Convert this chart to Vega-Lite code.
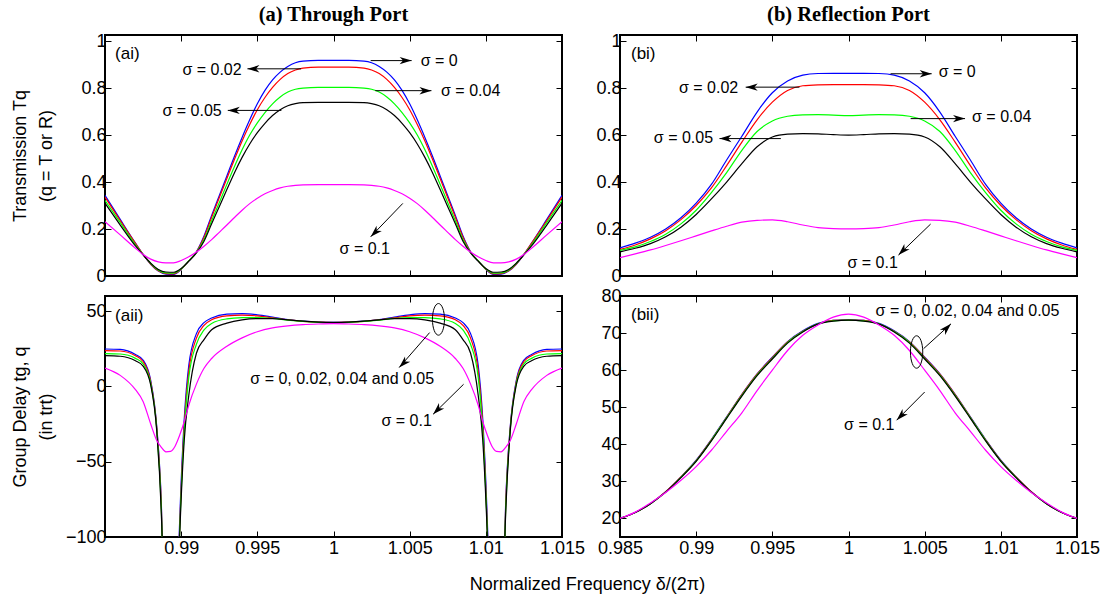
{
"$schema": "https://vega.github.io/schema/vega-lite/v6.json",
"autosize": "pad",
"padding": {"left": 9, "top": 4, "right": 2, "bottom": 5},
"background": "white",
"datasets": {
"ai": [
{"x":0.985,"a":0.343,"b":0.336,"c":0.322,"d":0.31,"e":0.231},
{"x":0.986,"a":0.241,"b":0.236,"c":0.227,"d":0.217,"e":0.175},
{"x":0.987,"a":0.14,"b":0.139,"c":0.133,"d":0.128,"e":0.118},
{"x":0.9875,"a":0.092,"b":0.092,"c":0.092,"d":0.09,"e":0.092},
{"x":0.988,"a":0.05,"b":0.051,"c":0.053,"d":0.055,"e":0.072},
{"x":0.9885,"a":0.021,"b":0.022,"c":0.025,"d":0.028,"e":0.06},
{"x":0.989,"a":0.008,"b":0.01,"c":0.013,"d":0.017,"e":0.056},
{"x":0.9895,"a":0.007,"b":0.009,"c":0.012,"d":0.016,"e":0.056},
{"x":0.99,"a":0.028,"b":0.029,"c":0.03,"d":0.032,"e":0.066},
{"x":0.9905,"a":0.064,"b":0.064,"c":0.064,"d":0.063,"e":0.082},
{"x":0.991,"a":0.103,"b":0.102,"c":0.1,"d":0.098,"e":0.102},
{"x":0.9915,"a":0.17,"b":0.165,"c":0.155,"d":0.148,"e":0.127},
{"x":0.992,"a":0.258,"b":0.25,"c":0.235,"d":0.222,"e":0.155},
{"x":0.9925,"a":0.342,"b":0.333,"c":0.312,"d":0.295,"e":0.186},
{"x":0.993,"a":0.426,"b":0.415,"c":0.39,"d":0.368,"e":0.217},
{"x":0.9935,"a":0.51,"b":0.497,"c":0.466,"d":0.44,"e":0.249},
{"x":0.994,"a":0.59,"b":0.575,"c":0.537,"d":0.505,"e":0.28},
{"x":0.9945,"a":0.665,"b":0.645,"c":0.6,"d":0.562,"e":0.308},
{"x":0.995,"a":0.733,"b":0.708,"c":0.652,"d":0.61,"e":0.331},
{"x":0.9955,"a":0.79,"b":0.76,"c":0.696,"d":0.65,"e":0.35},
{"x":0.996,"a":0.835,"b":0.803,"c":0.733,"d":0.683,"e":0.364},
{"x":0.9965,"a":0.868,"b":0.837,"c":0.762,"d":0.708,"e":0.375},
{"x":0.997,"a":0.892,"b":0.862,"c":0.783,"d":0.725,"e":0.382},
{"x":0.9975,"a":0.908,"b":0.877,"c":0.795,"d":0.734,"e":0.386},
{"x":0.998,"a":0.915,"b":0.885,"c":0.8,"d":0.738,"e":0.388},
{"x":0.999,"a":0.918,"b":0.889,"c":0.803,"d":0.739,"e":0.389},
{"x":1.0,"a":0.918,"b":0.889,"c":0.803,"d":0.739,"e":0.389},
{"x":1.001,"a":0.918,"b":0.889,"c":0.803,"d":0.739,"e":0.389},
{"x":1.002,"a":0.915,"b":0.885,"c":0.8,"d":0.738,"e":0.388},
{"x":1.0025,"a":0.908,"b":0.877,"c":0.795,"d":0.734,"e":0.386},
{"x":1.003,"a":0.892,"b":0.862,"c":0.783,"d":0.725,"e":0.382},
{"x":1.0035,"a":0.868,"b":0.837,"c":0.762,"d":0.708,"e":0.375},
{"x":1.004,"a":0.835,"b":0.803,"c":0.733,"d":0.683,"e":0.364},
{"x":1.0045,"a":0.79,"b":0.76,"c":0.696,"d":0.65,"e":0.35},
{"x":1.005,"a":0.733,"b":0.708,"c":0.652,"d":0.61,"e":0.331},
{"x":1.0055,"a":0.665,"b":0.645,"c":0.6,"d":0.562,"e":0.308},
{"x":1.006,"a":0.59,"b":0.575,"c":0.537,"d":0.505,"e":0.28},
{"x":1.0065,"a":0.51,"b":0.497,"c":0.466,"d":0.44,"e":0.249},
{"x":1.007,"a":0.426,"b":0.415,"c":0.39,"d":0.368,"e":0.217},
{"x":1.0075,"a":0.342,"b":0.333,"c":0.312,"d":0.295,"e":0.186},
{"x":1.008,"a":0.258,"b":0.25,"c":0.235,"d":0.222,"e":0.155},
{"x":1.0085,"a":0.17,"b":0.165,"c":0.155,"d":0.148,"e":0.127},
{"x":1.009,"a":0.103,"b":0.102,"c":0.1,"d":0.098,"e":0.102},
{"x":1.0095,"a":0.064,"b":0.064,"c":0.064,"d":0.063,"e":0.082},
{"x":1.01,"a":0.028,"b":0.029,"c":0.03,"d":0.032,"e":0.066},
{"x":1.0105,"a":0.007,"b":0.009,"c":0.012,"d":0.016,"e":0.056},
{"x":1.011,"a":0.008,"b":0.01,"c":0.013,"d":0.017,"e":0.056},
{"x":1.0115,"a":0.021,"b":0.022,"c":0.025,"d":0.028,"e":0.06},
{"x":1.012,"a":0.05,"b":0.051,"c":0.053,"d":0.055,"e":0.072},
{"x":1.0125,"a":0.092,"b":0.092,"c":0.092,"d":0.09,"e":0.092},
{"x":1.013,"a":0.14,"b":0.139,"c":0.133,"d":0.128,"e":0.118},
{"x":1.014,"a":0.241,"b":0.236,"c":0.227,"d":0.217,"e":0.175},
{"x":1.015,"a":0.343,"b":0.336,"c":0.322,"d":0.31,"e":0.231}
],
"aii": [
{"x":0.985,"a":24.8,"b":23.7,"c":21.7,"d":20.4,"e":12.2},
{"x":0.986,"a":24.6,"b":23.5,"c":21.5,"d":20,"e":7.3},
{"x":0.987,"a":21.2,"b":20.3,"c":18.6,"d":17,"e":-2.2},
{"x":0.9875,"a":17.5,"b":16.5,"c":15,"d":13.5,"e":-10},
{"x":0.988,"a":4,"b":3,"c":2,"d":1,"e":-25},
{"x":0.9884,"a":-27,"b":-28,"c":-29,"d":-30,"e":-36},
{"x":0.9887,"a":-78,"b":-80,"c":-82,"d":-85,"e":-40.5},
{"x":0.989,"a":-200,"b":-200,"c":-200,"d":-200,"e":-43.5},
{"x":0.9893,"a":-400,"b":-400,"c":-400,"d":-400,"e":-43.2},
{"x":0.9896,"a":-200,"b":-200,"c":-200,"d":-200,"e":-39.7},
{"x":0.9899,"a":-90,"b":-95,"c":-97,"d":-100,"e":-32.5},
{"x":0.9902,"a":-22,"b":-26,"c":-30,"d":-36,"e":-23.5},
{"x":0.9905,"a":14,"b":10,"c":6,"d":-6,"e":-12.5},
{"x":0.991,"a":35,"b":32,"c":28,"d":22,"e":1.5},
{"x":0.9915,"a":42.3,"b":40.5,"c":37.5,"d":31,"e":12},
{"x":0.992,"a":45.4,"b":44.2,"c":41.8,"d":37.6,"e":18.5},
{"x":0.993,"a":48,"b":46.8,"c":44.8,"d":42,"e":26.6},
{"x":0.994,"a":48.3,"b":47.3,"c":45.6,"d":44.2,"e":32.2},
{"x":0.995,"a":47.5,"b":46.8,"c":45.7,"d":45,"e":36.3},
{"x":0.996,"a":46,"b":45.5,"c":45.1,"d":45,"e":38.8},
{"x":0.997,"a":44.4,"b":44.2,"c":44,"d":44.2,"e":40.2},
{"x":0.998,"a":43.3,"b":43.2,"c":43.1,"d":43.3,"e":41},
{"x":0.999,"a":42.7,"b":42.6,"c":42.5,"d":42.7,"e":41.4},
{"x":1.0,"a":42.5,"b":42.4,"c":42.3,"d":42.5,"e":41.6},
{"x":1.001,"a":42.7,"b":42.6,"c":42.5,"d":42.7,"e":41.4},
{"x":1.002,"a":43.3,"b":43.2,"c":43.1,"d":43.3,"e":41},
{"x":1.003,"a":44.4,"b":44.2,"c":44,"d":44.2,"e":40.2},
{"x":1.004,"a":46,"b":45.5,"c":45.1,"d":45,"e":38.8},
{"x":1.005,"a":47.5,"b":46.8,"c":45.7,"d":45,"e":36.3},
{"x":1.006,"a":48.3,"b":47.3,"c":45.6,"d":44.2,"e":32.2},
{"x":1.007,"a":48,"b":46.8,"c":44.8,"d":42,"e":26.6},
{"x":1.008,"a":45.4,"b":44.2,"c":41.8,"d":37.6,"e":18.5},
{"x":1.0085,"a":42.3,"b":40.5,"c":37.5,"d":31,"e":12},
{"x":1.009,"a":35,"b":32,"c":28,"d":22,"e":1.5},
{"x":1.0095,"a":14,"b":10,"c":6,"d":-6,"e":-12.5},
{"x":1.0098,"a":-22,"b":-26,"c":-30,"d":-36,"e":-23.5},
{"x":1.0101,"a":-90,"b":-95,"c":-97,"d":-100,"e":-32.5},
{"x":1.0104,"a":-200,"b":-200,"c":-200,"d":-200,"e":-39.7},
{"x":1.0107,"a":-400,"b":-400,"c":-400,"d":-400,"e":-43.2},
{"x":1.011,"a":-200,"b":-200,"c":-200,"d":-200,"e":-43.5},
{"x":1.0113,"a":-78,"b":-80,"c":-82,"d":-85,"e":-40.5},
{"x":1.0116,"a":-27,"b":-28,"c":-29,"d":-30,"e":-36},
{"x":1.012,"a":4,"b":3,"c":2,"d":1,"e":-25},
{"x":1.0125,"a":17.5,"b":16.5,"c":15,"d":13.5,"e":-10},
{"x":1.013,"a":21.2,"b":20.3,"c":18.6,"d":17,"e":-2.2},
{"x":1.014,"a":24.6,"b":23.5,"c":21.5,"d":20,"e":7.3},
{"x":1.015,"a":24.8,"b":23.7,"c":21.7,"d":20.4,"e":12.2}
],
"bi": [
{"x":0.985,"a":0.12,"b":0.113,"c":0.109,"d":0.103,"e":0.078},
{"x":0.986,"a":0.14,"b":0.132,"c":0.124,"d":0.118,"e":0.094},
{"x":0.987,"a":0.165,"b":0.158,"c":0.147,"d":0.138,"e":0.111},
{"x":0.988,"a":0.2,"b":0.193,"c":0.178,"d":0.167,"e":0.13},
{"x":0.989,"a":0.248,"b":0.24,"c":0.222,"d":0.208,"e":0.15},
{"x":0.99,"a":0.31,"b":0.3,"c":0.28,"d":0.262,"e":0.171},
{"x":0.991,"a":0.39,"b":0.375,"c":0.355,"d":0.328,"e":0.192},
{"x":0.992,"a":0.494,"b":0.47,"c":0.44,"d":0.4,"e":0.212},
{"x":0.993,"a":0.595,"b":0.57,"c":0.535,"d":0.478,"e":0.229},
{"x":0.994,"a":0.698,"b":0.665,"c":0.615,"d":0.55,"e":0.237},
{"x":0.995,"a":0.78,"b":0.74,"c":0.66,"d":0.592,"e":0.239},
{"x":0.996,"a":0.83,"b":0.79,"c":0.68,"d":0.604,"e":0.231},
{"x":0.997,"a":0.855,"b":0.81,"c":0.686,"d":0.606,"e":0.217},
{"x":0.998,"a":0.862,"b":0.814,"c":0.687,"d":0.605,"e":0.206},
{"x":0.999,"a":0.863,"b":0.815,"c":0.685,"d":0.602,"e":0.202},
{"x":1.0,"a":0.863,"b":0.815,"c":0.683,"d":0.6,"e":0.201},
{"x":1.001,"a":0.863,"b":0.815,"c":0.685,"d":0.602,"e":0.202},
{"x":1.002,"a":0.862,"b":0.814,"c":0.687,"d":0.605,"e":0.206},
{"x":1.003,"a":0.855,"b":0.81,"c":0.686,"d":0.606,"e":0.217},
{"x":1.004,"a":0.83,"b":0.79,"c":0.68,"d":0.604,"e":0.231},
{"x":1.005,"a":0.78,"b":0.74,"c":0.66,"d":0.592,"e":0.239},
{"x":1.006,"a":0.698,"b":0.665,"c":0.615,"d":0.55,"e":0.237},
{"x":1.007,"a":0.595,"b":0.57,"c":0.535,"d":0.478,"e":0.229},
{"x":1.008,"a":0.494,"b":0.47,"c":0.44,"d":0.4,"e":0.212},
{"x":1.009,"a":0.39,"b":0.375,"c":0.355,"d":0.328,"e":0.192},
{"x":1.01,"a":0.31,"b":0.3,"c":0.28,"d":0.262,"e":0.171},
{"x":1.011,"a":0.248,"b":0.24,"c":0.222,"d":0.208,"e":0.15},
{"x":1.012,"a":0.2,"b":0.193,"c":0.178,"d":0.167,"e":0.13},
{"x":1.013,"a":0.165,"b":0.158,"c":0.147,"d":0.138,"e":0.111},
{"x":1.014,"a":0.14,"b":0.132,"c":0.124,"d":0.118,"e":0.094},
{"x":1.015,"a":0.12,"b":0.113,"c":0.109,"d":0.103,"e":0.078}
],
"bii": [
{"x":0.985,"a":20,"b":20,"c":20,"d":20,"e":20},
{"x":0.986,"a":21.6,"b":21.6,"c":21.6,"d":21.6,"e":21.7},
{"x":0.987,"a":24,"b":24,"c":24,"d":24,"e":24.2},
{"x":0.988,"a":27.2,"b":27.2,"c":27.1,"d":27.1,"e":27},
{"x":0.989,"a":31.2,"b":31.2,"c":31.1,"d":31,"e":30.3},
{"x":0.99,"a":35.7,"b":35.6,"c":35.5,"d":35.4,"e":34},
{"x":0.991,"a":41.3,"b":41.2,"c":41.1,"d":40.9,"e":38.4},
{"x":0.992,"a":47.4,"b":47.3,"c":47.2,"d":47,"e":43.5},
{"x":0.993,"a":53.5,"b":53.4,"c":53.2,"d":53,"e":48.5},
{"x":0.994,"a":59,"b":58.9,"c":58.7,"d":58.5,"e":54.5},
{"x":0.995,"a":63.5,"b":63.4,"c":63.2,"d":63,"e":60},
{"x":0.996,"a":67.7,"b":67.6,"c":67.5,"d":67.3,"e":65.3},
{"x":0.997,"a":70.6,"b":70.5,"c":70.4,"d":70.3,"e":69.4},
{"x":0.998,"a":72.6,"b":72.5,"c":72.5,"d":72.4,"e":72.2},
{"x":0.999,"a":73.4,"b":73.4,"c":73.3,"d":73.2,"e":74.3},
{"x":1.0,"a":73.6,"b":73.5,"c":73.5,"d":73.5,"e":75.1},
{"x":1.001,"a":73.4,"b":73.4,"c":73.3,"d":73.2,"e":74.3},
{"x":1.002,"a":72.6,"b":72.5,"c":72.5,"d":72.4,"e":72.2},
{"x":1.003,"a":70.6,"b":70.5,"c":70.4,"d":70.3,"e":69.4},
{"x":1.004,"a":67.7,"b":67.6,"c":67.5,"d":67.3,"e":65.3},
{"x":1.005,"a":63.5,"b":63.4,"c":63.2,"d":63,"e":60},
{"x":1.006,"a":59,"b":58.9,"c":58.7,"d":58.5,"e":54.5},
{"x":1.007,"a":53.5,"b":53.4,"c":53.2,"d":53,"e":48.5},
{"x":1.008,"a":47.4,"b":47.3,"c":47.2,"d":47,"e":43.5},
{"x":1.009,"a":41.3,"b":41.2,"c":41.1,"d":40.9,"e":38.4},
{"x":1.01,"a":35.7,"b":35.6,"c":35.5,"d":35.4,"e":34},
{"x":1.011,"a":31.2,"b":31.2,"c":31.1,"d":31,"e":30.3},
{"x":1.012,"a":27.2,"b":27.2,"c":27.1,"d":27.1,"e":27},
{"x":1.013,"a":24,"b":24,"c":24,"d":24,"e":24.2},
{"x":1.014,"a":21.6,"b":21.6,"c":21.6,"d":21.6,"e":21.7},
{"x":1.015,"a":20,"b":20,"c":20,"d":20,"e":20}
]
},
"columns": 2,
"spacing": {"row": 20, "column": 58},
"bounds": "flush",
"concat": [
{
"width": 457, "height": 241,
"title": {"text": "(a) Through Port", "font": "Liberation Serif", "fontSize": 20.5, "fontWeight": "bold", "color": "black", "anchor": "middle", "frame": "group", "offset": 6.5},
"encoding": {
"x": {"field": "x", "type": "quantitative", "scale": {"domain": [0.985, 1.015], "nice": false, "zero": false}, "axis": null},
"y": {"field": "y", "type": "quantitative", "scale": {"domain": [0, 1.026], "nice": false, "zero": false}, "axis": null}
},
"layer": [
{"data": {"name": "ai"}, "transform": [{"fold": ["a","b","c","d","e"], "as": ["s","y"]}],
"mark": {"type": "line", "clip": true, "strokeWidth": 1.2, "interpolate": "monotone"},
"encoding": {
"x": {"field": "x", "type": "quantitative", "scale": {"domain": [0.985, 1.015], "nice": false, "zero": false}, "axis": {"orient": "bottom", "values": [0.985,0.99,0.995,1,1.005,1.01,1.015], "labels": false, "title": null}},
"y": {"field": "y", "type": "quantitative", "scale": {"domain": [0, 1.026], "nice": false, "zero": false}, "axis": {"orient": "left", "values": [0,0.2,0.4,0.6,0.8,1], "format": ".1~f", "title": ["Transmission Tq", "(q = T or R)"], "titleX": -76, "titleY": 120.5, "titleAngle": -90}},
"color": {"field": "s", "type": "nominal", "scale": {"domain": ["a","b","c","d","e"], "range": ["#0000ff","#ff0000","#00ff00","#000000","#ff00ff"]}, "legend": null}
}},
{"data": {"values": [
{"x":1.00572,"y":0.917,"t":"σ = 0"},
{"x":0.99008,"y":0.875,"t":"σ = 0.02"},
{"x":1.00706,"y":0.786,"t":"σ = 0.04"},
{"x":0.98877,"y":0.702,"t":"σ = 0.05"},
{"x":1.0004,"y":0.115,"t":"σ = 0.1"}
]},
"mark": {"type": "text", "align": "left", "baseline": "middle", "fontSize": 16, "font": "Liberation Sans", "color": "black"},
"encoding": {
"x": {"field": "x", "type": "quantitative", "scale": {"domain": [0.985, 1.015], "nice": false, "zero": false}, "axis": {"orient": "top", "values": [0.985,0.99,0.995,1,1.005,1.01,1.015], "labels": false, "title": null}},
"y": {"field": "y", "type": "quantitative", "scale": {"domain": [0, 1.026], "nice": false, "zero": false}, "axis": {"orient": "right", "values": [0,0.2,0.4,0.6,0.8,1], "labels": false, "title": null}},
"text": {"field": "t"}
}},
{"data": {"values": [
{"x":1.00244,"y":0.917,"x2":1.00513,"y2":0.917,"dir":"E"},
{"x":0.99787,"y":0.882,"x2":0.99435,"y2":0.882,"dir":"W"},
{"x":1.00274,"y":0.789,"x2":1.00643,"y2":0.789,"dir":"E"},
{"x":0.99658,"y":0.705,"x2":0.99306,"y2":0.705,"dir":"W"},
{"x":1.00455,"y":0.309,"x2":1.00244,"y2":0.167,"dir":"SW"}
]},
"layer": [
{"mark": {"type": "rule", "color": "black", "strokeWidth": 1}, "encoding": {"x2": {"field": "x2"}, "y2": {"field": "y2"}}},
{"mark": {"type": "point", "shape": "M0,0L-1,-0.31L-0.72,0L-1,0.31Z", "size": 576, "filled": true, "color": "black", "opacity": 1},
"encoding": {
"x": {"field": "x2", "type": "quantitative", "scale": {"domain": [0.985, 1.015], "nice": false, "zero": false}, "axis": null},
"y": {"field": "y2", "type": "quantitative", "scale": {"domain": [0, 1.026], "nice": false, "zero": false}, "axis": null},
"angle": {"field": "dir", "type": "nominal", "scale": {"type": "ordinal", "domain": ["E","W","SW","NE"], "range": [0,180,135,315]}, "legend": null}
}}
]},
{"data": {"values": [{"x":0.98566,"y":0.946,"t":"(ai)"}]},
"mark": {"type": "text", "align": "left", "baseline": "middle", "fontSize": 17, "font": "Liberation Sans", "color": "black"},
"encoding": {"text": {"field": "t"}}}
],
"resolve": {"axis": {"x": "independent", "y": "independent"}}
},
{
"width": 457, "height": 241,
"title": {"text": "(b) Reflection Port", "font": "Liberation Serif", "fontSize": 20.5, "fontWeight": "bold", "color": "black", "anchor": "middle", "frame": "group", "offset": 6.5},
"encoding": {
"x": {"field": "x", "type": "quantitative", "scale": {"domain": [0.985, 1.015], "nice": false, "zero": false}, "axis": null},
"y": {"field": "y", "type": "quantitative", "scale": {"domain": [0, 1.026], "nice": false, "zero": false}, "axis": null}
},
"layer": [
{"data": {"name": "bi"}, "transform": [{"fold": ["a","b","c","d","e"], "as": ["s","y"]}],
"mark": {"type": "line", "clip": true, "strokeWidth": 1.2, "interpolate": "monotone"},
"encoding": {
"x": {"field": "x", "type": "quantitative", "scale": {"domain": [0.985, 1.015], "nice": false, "zero": false}, "axis": {"orient": "bottom", "values": [0.985,0.99,0.995,1,1.005,1.01,1.015], "labels": false, "title": null}},
"y": {"field": "y", "type": "quantitative", "scale": {"domain": [0, 1.026], "nice": false, "zero": false}, "axis": {"orient": "left", "values": [0,0.2,0.4,0.6,0.8,1], "format": ".1~f", "title": null}},
"color": {"field": "s", "type": "nominal", "scale": {"domain": ["a","b","c","d","e"], "range": ["#0000ff","#ff0000","#00ff00","#000000","#ff00ff"]}, "legend": null}
}},
{"data": {"values": [
{"x":1.00592,"y":0.868,"t":"σ = 0"},
{"x":0.98887,"y":0.801,"t":"σ = 0.02"},
{"x":1.00811,"y":0.677,"t":"σ = 0.04"},
{"x":0.98722,"y":0.588,"t":"σ = 0.05"},
{"x":0.99993,"y":0.054,"t":"σ = 0.1"}
]},
"mark": {"type": "text", "align": "left", "baseline": "middle", "fontSize": 16, "font": "Liberation Sans", "color": "black"},
"encoding": {
"x": {"field": "x", "type": "quantitative", "scale": {"domain": [0.985, 1.015], "nice": false, "zero": false}, "axis": {"orient": "top", "values": [0.985,0.99,0.995,1,1.005,1.01,1.015], "labels": false, "title": null}},
"y": {"field": "y", "type": "quantitative", "scale": {"domain": [0, 1.026], "nice": false, "zero": false}, "axis": {"orient": "right", "values": [0,0.2,0.4,0.6,0.8,1], "labels": false, "title": null}},
"text": {"field": "t"}
}},
{"data": {"values": [
{"x":1.00276,"y":0.861,"x2":1.00546,"y2":0.861,"dir":"E"},
{"x":0.99678,"y":0.804,"x2":0.99325,"y2":0.804,"dir":"W"},
{"x":1.00408,"y":0.67,"x2":1.00765,"y2":0.67,"dir":"E"},
{"x":0.99556,"y":0.585,"x2":0.99153,"y2":0.585,"dir":"W"},
{"x":1.00539,"y":0.221,"x2":1.00328,"y2":0.089,"dir":"SW"}
]},
"layer": [
{"mark": {"type": "rule", "color": "black", "strokeWidth": 1}, "encoding": {"x2": {"field": "x2"}, "y2": {"field": "y2"}}},
{"mark": {"type": "point", "shape": "M0,0L-1,-0.31L-0.72,0L-1,0.31Z", "size": 576, "filled": true, "color": "black", "opacity": 1},
"encoding": {
"x": {"field": "x2", "type": "quantitative", "scale": {"domain": [0.985, 1.015], "nice": false, "zero": false}, "axis": null},
"y": {"field": "y2", "type": "quantitative", "scale": {"domain": [0, 1.026], "nice": false, "zero": false}, "axis": null},
"angle": {"field": "dir", "type": "nominal", "scale": {"type": "ordinal", "domain": ["E","W","SW","NE"], "range": [0,180,135,315]}, "legend": null}
}}
]},
{"data": {"values": [{"x":0.98572,"y":0.946,"t":"(bi)"}]},
"mark": {"type": "text", "align": "left", "baseline": "middle", "fontSize": 17, "font": "Liberation Sans", "color": "black"},
"encoding": {"text": {"field": "t"}}}
],
"resolve": {"axis": {"x": "independent", "y": "independent"}}
},
{
"width": 457, "height": 241,
"encoding": {
"x": {"field": "x", "type": "quantitative", "scale": {"domain": [0.985, 1.015], "nice": false, "zero": false}, "axis": null},
"y": {"field": "y", "type": "quantitative", "scale": {"domain": [-100, 60], "nice": false, "zero": false}, "axis": null}
},
"layer": [
{"data": {"name": "aii"}, "transform": [{"fold": ["a","b","c","d","e"], "as": ["s","y"]}],
"mark": {"type": "line", "clip": true, "strokeWidth": 1.2, "interpolate": "monotone"},
"encoding": {
"x": {"field": "x", "type": "quantitative", "scale": {"domain": [0.985, 1.015], "nice": false, "zero": false}, "axis": {"orient": "bottom", "values": [0.985,0.99,0.995,1,1.005,1.01,1.015], "format": ".3~f", "labelExpr": "datum.value < 0.987 ? '' : datum.label", "labelPadding": 8, "title": "Normalized Frequency δ/(2π)", "titleX": 482, "titleY": 52, "titleAlign": "center", "titleBaseline": "alphabetic", "titleAngle": 0}},
"y": {"field": "y", "type": "quantitative", "scale": {"domain": [-100, 60], "nice": false, "zero": false}, "axis": {"orient": "left", "values": [-100,-50,0,50], "format": "d", "title": ["Group Delay tg, q", "(in trt)"], "titleX": -76, "titleY": 120.5, "titleAngle": -90}},
"color": {"field": "s", "type": "nominal", "scale": {"domain": ["a","b","c","d","e"], "range": ["#0000ff","#ff0000","#00ff00","#000000","#ff00ff"]}, "legend": null}
}},
{"data": {"values": [
{"x":0.99454,"y":4.7,"t":"σ = 0, 0.02, 0.04 and 0.05"},
{"x":1.00315,"y":-22.9,"t":"σ = 0.1"}
]},
"mark": {"type": "text", "align": "left", "baseline": "middle", "fontSize": 16, "font": "Liberation Sans", "color": "black"},
"encoding": {
"x": {"field": "x", "type": "quantitative", "scale": {"domain": [0.985, 1.015], "nice": false, "zero": false}, "axis": {"orient": "top", "values": [0.985,0.99,0.995,1,1.005,1.01,1.015], "labels": false, "title": null}},
"y": {"field": "y", "type": "quantitative", "scale": {"domain": [-100, 60], "nice": false, "zero": false}, "axis": {"orient": "right", "values": [-100,-50,0,50], "labels": false, "title": null}},
"text": {"field": "t"}
}},
{"data": {"values": [
{"x":1.00631,"y":35.7,"x2":1.00431,"y2":12.5,"dir":"SW"},
{"x":1.00854,"y":1.4,"x2":1.00654,"y2":-18.5,"dir":"SW"}
]},
"layer": [
{"mark": {"type": "rule", "color": "black", "strokeWidth": 1}, "encoding": {"x2": {"field": "x2"}, "y2": {"field": "y2"}}},
{"mark": {"type": "point", "shape": "M0,0L-1,-0.31L-0.72,0L-1,0.31Z", "size": 576, "filled": true, "color": "black", "opacity": 1},
"encoding": {
"x": {"field": "x2", "type": "quantitative", "scale": {"domain": [0.985, 1.015], "nice": false, "zero": false}, "axis": null},
"y": {"field": "y2", "type": "quantitative", "scale": {"domain": [-100, 60], "nice": false, "zero": false}, "axis": null},
"angle": {"field": "dir", "type": "nominal", "scale": {"type": "ordinal", "domain": ["E","W","SW","NE"], "range": [0,180,135,315]}, "legend": null}
}}
]},
{"data": {"values": [{"x":1.00689,"y":44.5}]},
"mark": {"type": "point", "shape": "M0,-1A0.38,1,0,1,1,0,1A0.38,1,0,1,1,0,-1Z", "size": 1000, "filled": false, "color": "black", "strokeWidth": 1, "opacity": 1}},
{"data": {"values": [{"x":0.98566,"y":46.7,"t":"(aii)"}]},
"mark": {"type": "text", "align": "left", "baseline": "middle", "fontSize": 17, "font": "Liberation Sans", "color": "black"},
"encoding": {"text": {"field": "t"}}}
],
"resolve": {"axis": {"x": "independent", "y": "independent"}}
},
{
"width": 457, "height": 241,
"encoding": {
"x": {"field": "x", "type": "quantitative", "scale": {"domain": [0.985, 1.015], "nice": false, "zero": false}, "axis": null},
"y": {"field": "y", "type": "quantitative", "scale": {"domain": [15, 80], "nice": false, "zero": false}, "axis": null}
},
"layer": [
{"data": {"name": "bii"}, "transform": [{"fold": ["a","b","c","d","e"], "as": ["s","y"]}],
"mark": {"type": "line", "clip": true, "strokeWidth": 1.2, "interpolate": "monotone"},
"encoding": {
"x": {"field": "x", "type": "quantitative", "scale": {"domain": [0.985, 1.015], "nice": false, "zero": false}, "axis": {"orient": "bottom", "values": [0.985,0.99,0.995,1,1.005,1.01,1.015], "format": ".3~f", "labelPadding": 8, "title": null}},
"y": {"field": "y", "type": "quantitative", "scale": {"domain": [15, 80], "nice": false, "zero": false}, "axis": {"orient": "left", "values": [20,30,40,50,60,70,80], "format": "d", "title": null}},
"color": {"field": "s", "type": "nominal", "scale": {"domain": ["a","b","c","d","e"], "range": ["#0000ff","#ff0000","#00ff00","#000000","#ff00ff"]}, "legend": null}
}},
{"data": {"values": [
{"x":1.00178,"y":75.9,"t":"σ = 0, 0.02, 0.04 and 0.05"},
{"x":0.99971,"y":45.1,"t":"σ = 0.1"}
]},
"mark": {"type": "text", "align": "left", "baseline": "middle", "fontSize": 16, "font": "Liberation Sans", "color": "black"},
"encoding": {
"x": {"field": "x", "type": "quantitative", "scale": {"domain": [0.985, 1.015], "nice": false, "zero": false}, "axis": {"orient": "top", "values": [0.985,0.99,0.995,1,1.005,1.01,1.015], "labels": false, "title": null}},
"y": {"field": "y", "type": "quantitative", "scale": {"domain": [15, 80], "nice": false, "zero": false}, "axis": {"orient": "right", "values": [20,30,40,50,60,70,80], "labels": false, "title": null}},
"text": {"field": "t"}
}},
{"data": {"values": [
{"x":1.00493,"y":65.8,"x2":1.00673,"y2":72.5,"dir":"NE"},
{"x":1.005,"y":54.1,"x2":1.00316,"y2":46.5,"dir":"SW"}
]},
"layer": [
{"mark": {"type": "rule", "color": "black", "strokeWidth": 1}, "encoding": {"x2": {"field": "x2"}, "y2": {"field": "y2"}}},
{"mark": {"type": "point", "shape": "M0,0L-1,-0.31L-0.72,0L-1,0.31Z", "size": 576, "filled": true, "color": "black", "opacity": 1},
"encoding": {
"x": {"field": "x2", "type": "quantitative", "scale": {"domain": [0.985, 1.015], "nice": false, "zero": false}, "axis": null},
"y": {"field": "y2", "type": "quantitative", "scale": {"domain": [15, 80], "nice": false, "zero": false}, "axis": null},
"angle": {"field": "dir", "type": "nominal", "scale": {"type": "ordinal", "domain": ["E","W","SW","NE"], "range": [0,180,135,315]}, "legend": null}
}}
]},
{"data": {"values": [{"x":1.00447,"y":64.9}]},
"mark": {"type": "point", "shape": "M0,-1A0.38,1,0,1,1,0,1A0.38,1,0,1,1,0,-1Z", "size": 1050, "filled": false, "color": "black", "strokeWidth": 1, "opacity": 1}},
{"data": {"values": [{"x":0.98572,"y":75,"t":"(bii)"}]},
"mark": {"type": "text", "align": "left", "baseline": "middle", "fontSize": 17, "font": "Liberation Sans", "color": "black"},
"encoding": {"text": {"field": "t"}}}
],
"resolve": {"axis": {"x": "independent", "y": "independent"}}
}
],
"config": {
"view": {"stroke": "black", "strokeWidth": 2},
"font": "Liberation Sans",
"axis": {"domain": false, "grid": false, "ticks": true, "tickSize": -6, "tickColor": "black", "tickWidth": 1, "labelFont": "Liberation Sans", "labelFontSize": 18, "labelColor": "black", "labelPadding": 5, "labelFlush": false, "labelOverlap": false, "labelBound": false, "titleFont": "Liberation Sans", "titleFontSize": 18, "titleFontWeight": "normal", "titleColor": "black", "titleLineHeight": 26, "titleAlign": "center", "titleBaseline": "bottom"}
}
}
